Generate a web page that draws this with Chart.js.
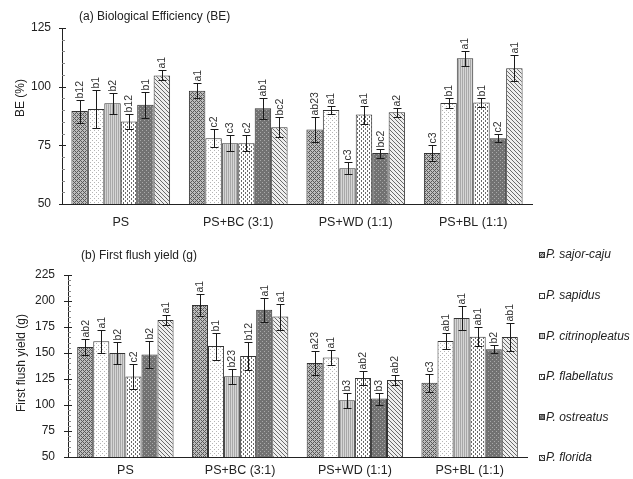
<!DOCTYPE html>
<html><head><meta charset="utf-8">
<script src="https://cdn.jsdelivr.net/npm/chart.js@4.4.0/dist/chart.umd.min.js"></script>
<style>
html,body{margin:0;padding:0;background:#fff;width:633px;height:479px;overflow:hidden}
canvas{position:absolute;left:0}
#c1{top:0}
#c2{top:235px}
</style></head><body>
<canvas id="c1" width="633" height="235"></canvas>
<canvas id="c2" width="633" height="244"></canvas>
<script>
// ---------- data ----------
const substrates = ['PS', 'PS+BC (3:1)', 'PS+WD (1:1)', 'PS+BL (1:1)'];
const species = ['P. sajor-caju', 'P. sapidus', 'P. citrinopleatus', 'P. flabellatus', 'P. ostreatus', 'P. florida'];

// (a) Biological efficiency (%)
const beSajorCaju       = [89.6, 98.3, 81.8, 71.7];
const beSapidus         = [90.5, 78.0, 90.1, 93.0];
const beCitrinopleatus  = [92.9, 75.9, 65.2, 112.1];
const beFlabellatus     = [85.2, 75.9, 88.1, 93.3];
const beOstreatus       = [92.3, 90.8, 71.7, 78.0];
const beFlorida         = [104.8, 82.7, 89.1, 107.8];
const beErrSajorCaju      = [4.9, 3.3, 5.2, 3.4];
const beErrSapidus        = [8.0, 3.8, 1.8, 2.2];
const beErrCitrinopleatus = [4.5, 3.3, 2.5, 3.1];
const beErrFlabellatus    = [3.3, 3.4, 3.8, 1.9];
const beErrOstreatus      = [5.5, 4.4, 1.9, 1.7];
const beErrFlorida        = [2.1, 4.2, 2.0, 5.5];
const beLetSajorCaju      = ['b12', 'a1', 'ab23', 'c3'];
const beLetSapidus        = ['b1', 'c2', 'a1', 'b1'];
const beLetCitrinopleatus = ['b2', 'c3', 'c3', 'a1'];
const beLetFlabellatus    = ['b12', 'c2', 'a1', 'b1'];
const beLetOstreatus      = ['b1', 'ab1', 'bc2', 'c2'];
const beLetFlorida        = ['a1', 'bc2', 'a2', 'a1'];
const beTicks = [50, 75, 100, 125];

// (b) First flush yield (g)
const ffSajorCaju       = [155.8, 196.2, 140.4, 121.5];
const ffSapidus         = [161.2, 156.7, 145.6, 161.5];
const ffCitrinopleatus  = [150.0, 127.6, 104.5, 183.7];
const ffFlabellatus     = [127.3, 147.1, 126.0, 165.7];
const ffOstreatus       = [148.5, 191.7, 106.2, 153.6];
const ffFlorida         = [181.7, 185.0, 124.0, 165.4];
const ffErrSajorCaju      = [8.0, 10.5, 11.3, 8.7];
const ffErrSapidus        = [11.0, 13.0, 7.5, 7.7];
const ffErrCitrinopleatus = [10.5, 7.4, 7.5, 11.3];
const ffErrFlabellatus    = [12.0, 13.5, 7.0, 9.0];
const ffErrOstreatus      = [12.8, 11.6, 5.8, 4.0];
const ffErrFlorida        = [4.6, 12.5, 4.5, 13.3];
const ffLetSajorCaju      = ['ab2', 'a1', 'a23', 'c3'];
const ffLetSapidus        = ['a1', 'b1', 'a1', 'ab1'];
const ffLetCitrinopleatus = ['b2', 'b23', 'b3', 'a1'];
const ffLetFlabellatus    = ['c2', 'b12', 'ab2', 'ab1'];
const ffLetOstreatus      = ['b2', 'a1', 'b3', 'b2'];
const ffLetFlorida        = ['a1', 'a1', 'ab2', 'ab1'];
const ffTicks = [50, 75, 100, 125, 150, 175, 200, 225];

// ---------- patterns ----------
function tile(w, h, bg, fg, test) {
  const c = document.createElement('canvas'); c.width = w; c.height = h;
  const x = c.getContext('2d');
  x.fillStyle = bg; x.fillRect(0, 0, w, h);
  x.fillStyle = fg;
  for (let i = 0; i < w; i++) for (let j = 0; j < h; j++) if (test(i, j)) x.fillRect(i, j, 1, 1);
  return document.createElement('canvas').getContext('2d').createPattern(c, 'repeat');
}
function makePatterns() {
  return [
    tile(4, 4, '#bdbdbd', '#5a5a5a', (i, j) => (i + j) % 4 === 0 || (i - j + 4) % 4 === 0),
    tile(4, 4, '#ffffff', '#b5b5b5', (i, j) => (i === 0 && j === 0) || (i === 2 && j === 2)),
    tile(2, 2, '#d6d6d6', '#a8a8a8', (i, j) => i === 0),
    tile(4, 4, '#ffffff', '#6a6a6a', (i, j) => (i === 1 && j < 2) || (i === 3 && j >= 2)),
    tile(4, 4, '#727272', '#a9a9a9', (i, j) => (i === 0 && j === 0) || (i === 2 && j === 2)),
    tile(4, 4, '#eeeeee', '#6a6a6a', (i, j) => i === j)
  ];
}
const FONT = "'Liberation Sans', Arial, sans-serif";

// ---------- plugin: error bars, letters, ticks, titles, legend ----------
const decorPlugin = {
  id: 'decor',
  afterDatasetsDraw(chart) {
    const ctx = chart.ctx, ys = chart.scales.y;
    ctx.save();
    chart.data.datasets.forEach((ds, i) => {
      const meta = chart.getDatasetMeta(i);
      meta.data.forEach((el, j) => {
        const v = ds.data[j], e = ds.err[j];
        const x = Math.round(el.x) + 0.5;
        const yt = Math.round(ys.getPixelForValue(v + e)) + 0.5;
        const yb = Math.round(ys.getPixelForValue(v - e)) + 0.5;
        ctx.strokeStyle = '#1a1a1a'; ctx.lineWidth = 1;
        ctx.beginPath();
        ctx.moveTo(x, yt); ctx.lineTo(x, yb);
        ctx.moveTo(x - 4, yt); ctx.lineTo(x + 4, yt);
        ctx.moveTo(x - 4, yb); ctx.lineTo(x + 4, yb);
        ctx.stroke();
        ctx.save();
        ctx.translate(el.x + 0.5, yt - 2);
        ctx.rotate(-Math.PI / 2);
        ctx.fillStyle = '#333';
        ctx.font = '10.5px ' + FONT;
        ctx.textAlign = 'left'; ctx.textBaseline = 'middle';
        ctx.fillText(ds.letters[j], 0, 0);
        ctx.restore();
      });
    });
    ctx.restore();
  },
  afterDraw(chart) {
    const o = chart.options.plugins.decor;
    const ctx = chart.ctx, ys = chart.scales.y, ca = chart.chartArea;
    ctx.save();
    // tick marks (major crossing, minor inside)
    for (let v = ys.min; v <= ys.max + 1e-9; v += o.minorStep) {
      const py = Math.round(ys.getPixelForValue(v)) + 0.5;
      const major = o.majors.includes(v);
      ctx.strokeStyle = major ? '#222' : '#888';
      ctx.beginPath();
      ctx.moveTo(Math.round(ca.left) - (major ? o.majorOut : 0), py);
      ctx.lineTo(Math.round(ca.left) + (major ? o.majorIn : 3), py);
      ctx.stroke();
    }
    // panel title
    ctx.fillStyle = '#222';
    ctx.font = '12px ' + FONT;
    ctx.textAlign = 'left'; ctx.textBaseline = 'middle';
    ctx.fillText(o.title, o.titleX, o.titleY);
    // y axis title
    ctx.save();
    ctx.translate(o.yTitleX, o.yTitleY);
    ctx.rotate(-Math.PI / 2);
    ctx.textAlign = 'center';
    ctx.fillText(o.yTitle, 0, 0);
    ctx.restore();
    // legend
    if (o.legend) {
      chart.data.datasets.forEach((ds, i) => {
        const cy = o.legendY0 + i * o.legendStep;
        ctx.fillStyle = ds.backgroundColor;
        ctx.fillRect(o.legendX, Math.round(cy - 3), 6, 6);
        ctx.strokeStyle = '#333';
        ctx.strokeRect(o.legendX + 0.5, Math.round(cy - 3) + 0.5, 5, 5);
        ctx.fillStyle = '#222';
        ctx.font = 'italic 12px ' + FONT;
        ctx.textAlign = 'left'; ctx.textBaseline = 'middle';
        ctx.fillText(ds.label, o.legendX + 7, cy);
      });
    }
    ctx.restore();
  }
};

function build(id, series, errs, lets, ticks, opts) {
  const pats = makePatterns();
  const datasets = series.map((d, i) => ({
    label: species[i], data: d, err: errs[i], letters: lets[i],
    backgroundColor: pats[i], borderColor: '#333', borderWidth: 1,
    categoryPercentage: 0.84, barPercentage: 1
  }));
  return new Chart(document.getElementById(id), {
    type: 'bar',
    data: { labels: substrates, datasets },
    plugins: [decorPlugin],
    options: {
      responsive: false, animation: false,
      layout: { padding: opts.padding },
      plugins: {
        legend: { display: false }, tooltip: { enabled: false },
        decor: Object.assign({ majors: ticks, minorStep: 5 }, opts.decor)
      },
      scales: {
        x: {
          grid: { display: false, drawTicks: false },
          border: { display: true, color: '#222', width: 1 },
          ticks: { color: '#222', font: { family: FONT, size: 12.5 }, padding: opts.xPad, maxRotation: 0 },
          afterFit: s => { s.height = opts.xHeight; }
        },
        y: {
          min: ticks[0], max: ticks[ticks.length - 1],
          afterBuildTicks: s => { s.ticks = ticks.map(v => ({ value: v })); },
          grid: { display: false, drawTicks: false },
          border: { display: true, color: '#222', width: 1 },
          ticks: { color: '#222', font: { family: FONT, size: 12 }, padding: opts.yPad },
          afterFit: s => { s.width = opts.yWidth; }
        }
      }
    }
  });
}

build('c1',
  [beSajorCaju, beSapidus, beCitrinopleatus, beFlabellatus, beOstreatus, beFlorida],
  [beErrSajorCaju, beErrSapidus, beErrCitrinopleatus, beErrFlabellatus, beErrOstreatus, beErrFlorida],
  [beLetSajorCaju, beLetSapidus, beLetCitrinopleatus, beLetFlabellatus, beLetOstreatus, beLetFlorida],
  beTicks,
  { padding: { left: 0, right: 101, top: 28, bottom: 0 }, xHeight: 31, yWidth: 62, xPad: 11, yPad: 11,
    decor: { title: '(a) Biological Efficiency (BE)', titleX: 79, titleY: 17,
             yTitle: 'BE (%)', yTitleX: 21, yTitleY: 98, majorOut: 3, majorIn: 4, legend: false } });

build('c2',
  [ffSajorCaju, ffSapidus, ffCitrinopleatus, ffFlabellatus, ffOstreatus, ffFlorida],
  [ffErrSajorCaju, ffErrSapidus, ffErrCitrinopleatus, ffErrFlabellatus, ffErrOstreatus, ffErrFlorida],
  [ffLetSajorCaju, ffLetSapidus, ffLetCitrinopleatus, ffLetFlabellatus, ffLetOstreatus, ffLetFlorida],
  ffTicks,
  { padding: { left: 0, right: 106, top: 40, bottom: 0 }, xHeight: 22, yWidth: 68, xPad: 6, yPad: 13,
    decor: { title: '(b) First flush yield (g)', titleX: 81, titleY: 21,
             yTitle: 'First flush yield (g)', yTitleX: 22, yTitleY: 128, majorOut: 4, majorIn: 4,
             legend: true, legendX: 539, legendY0: 20, legendStep: 40.6 } });
</script>
</body></html>
